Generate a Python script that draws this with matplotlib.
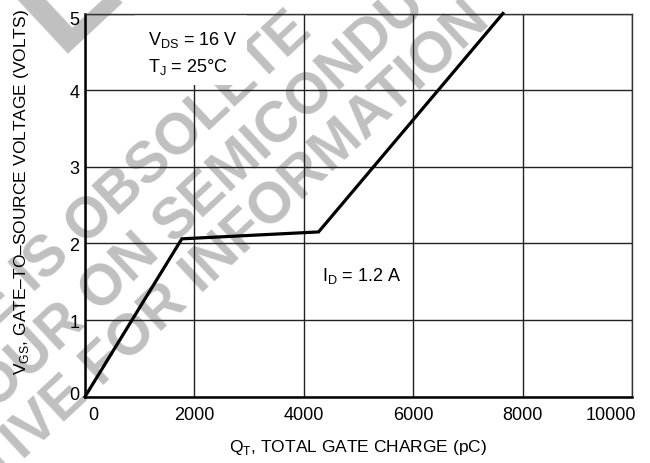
import numpy as np
import matplotlib
matplotlib.use("Agg")
import matplotlib.pyplot as plt
from matplotlib.patches import Rectangle
from matplotlib.transforms import ScaledTranslation

# ---- data ----
charge_pc = [0, 1770, 4270, 7640]
vgs_volts = [0.0, 2.06, 2.15, 5.0]
x_ticks = [0, 2000, 4000, 6000, 8000, 10000]
y_ticks = [0, 1, 2, 3, 4, 5]
x_label = "Q$_{\\mathregular{T}}$, TOTAL GATE CHARGE (pC)"
y_label = "V$_{\\mathregular{GS}}$, GATE\u2013TO\u2013SOURCE VOLTAGE (VOLTS)"
note_vds = "V$_{\\mathregular{DS}}$ = 16 V"
note_tj = "T$_{\\mathregular{J}}$ = 25\u00b0C"
note_id = "I$_{\\mathregular{D}}$ = 1.2 A"
watermark_lines = [("THIS DEVICE IS ", "OBSOLETE"),
                   ("CONTACT YOUR ON ", "SEMICONDUCTOR"),
                   ("REPRESENTATIVE FOR ", "INFORMATION")]

FONT = ["Liberation Sans", "DejaVu Sans"]
plt.rcParams["font.family"] = FONT
plt.rcParams["mathtext.fontset"] = "custom"
plt.rcParams["mathtext.rm"] = "Liberation Sans"

W, H = 650, 464
X0, X1, Y0, Y1 = 85, 632, 397.7, 14.5
fig = plt.figure(figsize=(W / 100, H / 100), dpi=100)
ax = fig.add_axes([X0 / W, 1 - Y0 / H, (X1 - X0) / W, (Y0 - Y1) / H])


def fpx(x, y):
    return x / W, 1 - y / H


# ---- watermark (behind grid) ----
ang = 43
wm_color = "#c0c0c0"
wm_kw = dict(transform=fig.transFigure, rotation=ang, rotation_mode="anchor",
             va="baseline", fontweight="bold",
             family="Liberation Sans", color=wm_color, zorder=0.5, clip_on=False)
wm_anchor = [(84, 246), (173, 245)]
for (pre, suf), anc in zip(watermark_lines[:2], wm_anchor):
    ax.text(*fpx(*anc), pre, ha="right", fontsize=41, **wm_kw)
    ax.text(*fpx(*anc), suf, ha="left", fontsize=41, **wm_kw)
pre, suf = watermark_lines[2]
ax.text(*fpx(492, 24), pre + suf, ha="right", fontsize=41, **wm_kw)
ax.text(*fpx(58, 54), "L", ha="left", fontsize=105, **wm_kw)

# ---- curve ----
ax.plot(charge_pc, vgs_volts, color="black", lw=2.3, solid_joinstyle="miter",
        zorder=4, clip_on=False)

ax.set_xlim(x_ticks[0], x_ticks[-1])
ax.set_ylim(y_ticks[0], y_ticks[-1])
ax.set_xticks(x_ticks)
ax.set_yticks(y_ticks)
ax.grid(True, color="#222222", lw=1.0)
for gl in ax.get_xgridlines() + ax.get_ygridlines():
    gl.set_zorder(2)
ax.tick_params(length=0, labelsize=13)
ax.tick_params(axis="x", pad=7)
ax.tick_params(axis="y", pad=4)
ax.patch.set_facecolor("white")

xl = ax.get_xticklabels()
xl[0].set_ha("left")
xl[0].set_transform(xl[0].get_transform() + ScaledTranslation(3 / 100, 0, fig.dpi_scale_trans))
xl[-1].set_ha("right")
xl[-1].set_transform(xl[-1].get_transform() + ScaledTranslation(4 / 100, 0, fig.dpi_scale_trans))
yl = ax.get_yticklabels()
yl[0].set_transform(yl[0].get_transform() + ScaledTranslation(0, 4 / 100, fig.dpi_scale_trans))
yl[-1].set_transform(yl[-1].get_transform() + ScaledTranslation(0, -4 / 100, fig.dpi_scale_trans))

for side in ("left", "bottom"):
    ax.spines[side].set_linewidth(1.8)
for side in ("top", "right"):
    ax.spines[side].set_linewidth(1.0)
    ax.spines[side].set_color("#333333")

ax.set_xlabel(x_label, fontsize=12.5)
ax.xaxis.set_label_coords((358 - X0) / (X1 - X0), (Y0 - 448) / (Y0 - Y1))
ax.xaxis.label.set_va("center")
ax.set_ylabel(y_label, fontsize=12.5)
ax.yaxis.set_label_coords((22 - X0) / (X1 - X0), (Y0 - 192.5) / (Y0 - Y1))
ax.yaxis.label.set_va("center")

# ---- annotations ----
ax.add_patch(Rectangle(fpx(135, 86), (247 - 135) / W, (86 - 16) / H,
                       transform=fig.transFigure, facecolor="white",
                       edgecolor="none", zorder=2.4))
ax.text(*fpx(148, 45), note_vds, transform=fig.transFigure, fontsize=13,
        ha="left", va="baseline", zorder=3)
ax.text(*fpx(148, 72), note_tj, transform=fig.transFigure, fontsize=13,
        ha="left", va="baseline", zorder=3)
ax.text(*fpx(322, 281), note_id, transform=fig.transFigure, fontsize=13,
        ha="left", va="baseline", zorder=3)

fig.savefig("out.png", dpi=100)
